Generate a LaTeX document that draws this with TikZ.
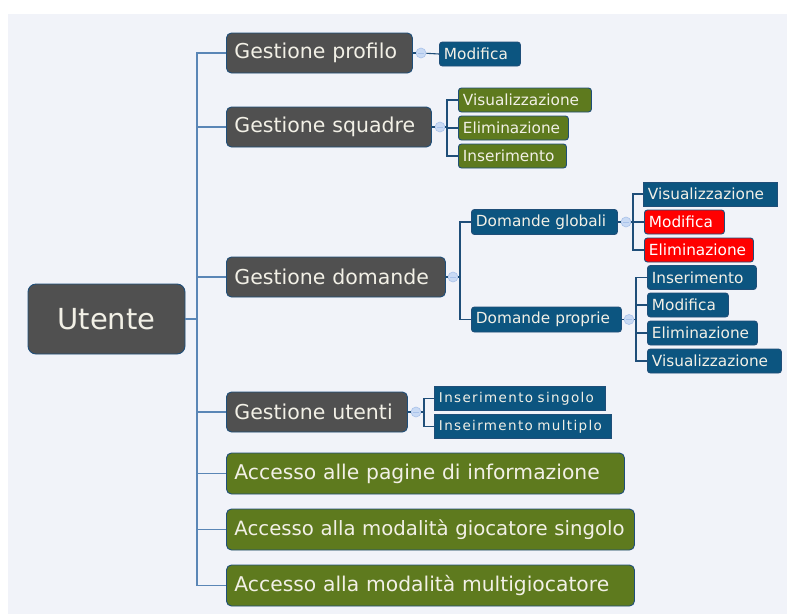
\documentclass[tikz,border=0pt]{standalone}
\usepackage{fontspec}
\setmainfont{DejaVu Sans}
\definecolor{panel}{HTML}{F1F3F9}
\definecolor{darkbox}{HTML}{505050}
\definecolor{bluebox}{HTML}{0C5580}
\definecolor{greenbox}{HTML}{5E7A1E}
\definecolor{redbox}{HTML}{FF0000}
\definecolor{edge}{HTML}{1F4E79}
\definecolor{trunkc}{HTML}{5A86B6}
\definecolor{lighttext}{HTML}{F2F0E6}
\definecolor{knobfill}{HTML}{C9DAF4}
\definecolor{knobdraw}{HTML}{A9C2EA}
\tikzset{
  box/.style={draw=edge, line width=0.9pt, text=lighttext, anchor=west, inner ysep=0pt, align=left},
  bigbox/.style={box, fill=darkbox, rounded corners=5pt, minimum height=40pt, inner xsep=8pt, font=\fontsize{20.5}{24}\selectfont},
  accbox/.style={box, fill=greenbox, rounded corners=5pt, minimum height=41pt, inner xsep=8pt, font=\fontsize{20.3}{24}\selectfont},
  smallbox/.style={box, rounded corners=3pt, minimum height=24pt, inner xsep=4.5pt, font=\fontsize{15.3}{18}\selectfont},
  bluesm/.style={smallbox, fill=bluebox},
  greensm/.style={smallbox, fill=greenbox},
  redsm/.style={smallbox, fill=redbox, text=white},
  bluesq/.style={bluesm, rounded corners=0pt},
  spacedsm/.style={bluesq, font=\fontsize{13.5}{16}\selectfont\addfontfeatures{LetterSpace=10}},
  knob/.style={circle, fill=knobfill, draw=knobdraw, line width=0.6pt, minimum size=10pt, inner sep=0pt,
    path picture={\draw[knobdraw, line width=0.8pt] ([xshift=-3pt]path picture bounding box.center) -- ([xshift=3pt]path picture bounding box.center);}},
  trunk/.style={draw=trunkc, line width=1.4pt},
  link/.style={draw=edge, line width=1.1pt},
}
\begin{document}
\begin{tikzpicture}[x=1pt,y=-1pt]
\useasboundingbox (0,0) rectangle (787,614);
\fill[panel] (8,14) rectangle (787,614);

% root
\node[draw=edge, line width=0.9pt, text=lighttext, fill=darkbox, rounded corners=8pt, minimum width=157pt, minimum height=70pt, anchor=center,
  font=\fontsize{29}{33}\selectfont] (ut) at (106.5,319) {Utente};

% first level
\node[bigbox, text width=170pt] (gp) at (226,53) {Gestione profilo};
\node[bigbox, text width=189pt] (gs) at (226,127) {Gestione squadre};
\node[bigbox, text width=203pt] (gd) at (226,277) {Gestione domande};
\node[bigbox, text width=165pt] (gu) at (226,412) {Gestione utenti};
\node[accbox, text width=382pt] (a1) at (226,473.5) {Accesso alle pagine di informazione};
\node[accbox, text width=392pt, font=\fontsize{19.7}{24}\selectfont] (a2) at (226,529.5) {\mbox{Accesso alla modalità giocatore singolo}};
\node[accbox, text width=392pt] (a3) at (226,585.5) {Accesso alla modalità multigiocatore};

\coordinate (tr) at (197,319);
\draw[trunk] (ut.east) -- (tr);
\foreach \n in {gp,gs,gd,gu,a1,a2,a3} \draw[trunk] (tr) |- (\n.west);

% Gestione profilo
\node[knob] (k1) at (421,53) {};
\node[bluesm, text width=72pt] (m1) at (439,54) {Modifica};
\draw[link] (gp.east) -- (k1);
\draw[link] (k1) -- (m1.west);

% Gestione squadre
\node[knob] (k2) at (440,127) {};
\coordinate (b2) at (447,127);
\node[greensm, text width=124pt] (s1) at (458,100) {Visualizzazione};
\node[greensm, text width=101pt] (s2) at (458,128) {Eliminazione};
\node[greensm, text width=99pt] (s3) at (458,156) {Inserimento};
\draw[link] (gs.east) -- (k2);
\draw[link] (k2) -- (b2);
\foreach \n in {s1,s2,s3} \draw[link] (b2) |- (\n.west);

% Gestione domande
\node[knob] (k3) at (453,277) {};
\coordinate (b3) at (460,277);
\node[bluesm, text width=137pt, minimum height=25pt] (dg) at (471,222) {Domande globali};
\node[bluesm, text width=141pt, minimum height=25pt] (dp) at (471,319.5) {Domande proprie};
\draw[link] (gd.east) -- (k3);
\draw[link] (k3) -- (b3);
\foreach \n in {dg,dp} \draw[link] (b3) |- (\n.west);

% Domande globali
\node[knob] (k4) at (626,222) {};
\coordinate (b4) at (633,222);
\node[bluesq, text width=125pt] (g1) at (643,194) {Visualizzazione};
\node[redsm, text width=71pt] (g2) at (644,222) {Modifica};
\node[redsm, text width=100pt] (g3) at (644,250) {Eliminazione};
\draw[link] (dg.east) -- (k4);
\draw[link] (k4) -- (b4);
\foreach \n in {g1,g2,g3} \draw[link] (b4) |- (\n.west);

% Domande proprie
\node[knob] (k5) at (629,319.5) {};
\coordinate (b5) at (636,319.5);
\node[bluesm, text width=100pt] (p1) at (647,277.5) {Inserimento};
\node[bluesm, text width=72pt] (p2) at (647,305) {Modifica};
\node[bluesm, text width=101pt] (p3) at (647,333) {Eliminazione};
\node[bluesm, text width=125pt] (p4) at (647,361) {Visualizzazione};
\draw[link] (dp.east) -- (k5);
\draw[link] (k5) -- (b5);
\foreach \n in {p1,p2,p3,p4} \draw[link] (b5) |- (\n.west);

% Gestione utenti
\node[knob] (k6) at (416,412) {};
\coordinate (b6) at (424,412);
\node[spacedsm, text width=162pt] (u1) at (434,398.5) {\mbox{Inserimento singolo}};
\node[spacedsm, text width=168pt] (u2) at (434,426.5) {\mbox{Inseirmento multiplo}};
\draw[link] (gu.east) -- (k6);
\draw[link] (k6) -- (b6);
\foreach \n in {u1,u2} \draw[link] (b6) |- (\n.west);
\end{tikzpicture}
\end{document}
